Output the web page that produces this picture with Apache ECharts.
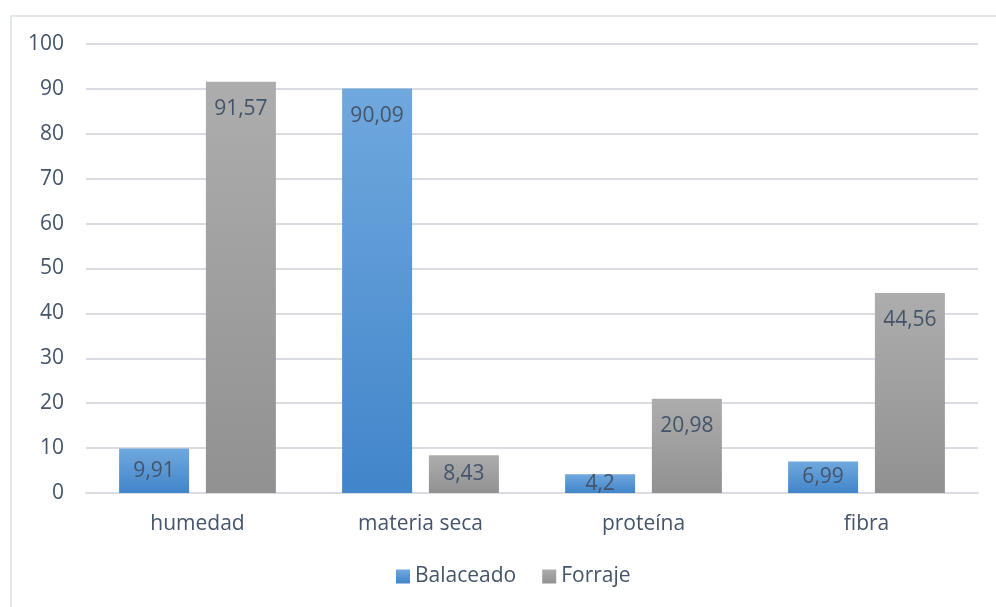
<!DOCTYPE html>
<html>
<head>
<meta charset="utf-8">
<script src="https://cdn.jsdelivr.net/npm/echarts@6/dist/echarts.min.js"></script>
<style>
  html, body { margin: 0; padding: 0; background: #fff; }
  #frame { position: absolute; left: 10px; top: 15px; width: 1000px; height: 620px; border: 2px solid #E3E6EB; box-sizing: border-box; }
  #chart { position: absolute; left: 0; top: 0; width: 996px; height: 607px; }
</style>
</head>
<body>
<div id="frame"></div>
<div id="chart"></div>
<script>
const categories = ['humedad', 'materia seca', 'proteína', 'fibra'];
const balaceado = [9.91, 90.09, 4.2, 6.99];
const forraje = [91.57, 8.43, 20.98, 44.56];
const seriesNames = ['Balaceado', 'Forraje'];

const textColor = '#44546A';
const font = '"Open Sans", "Noto Sans", sans-serif';
const fontSize = 21;

const fmt = v => String(v).replace('.', ',');

const blueGrad = new echarts.graphic.LinearGradient(0, 0, 0, 1, [
  { offset: 0, color: '#70A8DE' },
  { offset: 1, color: '#4185CA' }
]);
const grayGrad = new echarts.graphic.LinearGradient(0, 0, 0, 1, [
  { offset: 0, color: '#ADADAD' },
  { offset: 1, color: '#919191' }
]);

// Short bars cannot hold the label below their top edge, so centre it instead.
const withLabels = values => values.map(v => (
  v < 12 ? { value: v, label: { position: 'inside' } } : { value: v }
));

const labelStyle = {
  show: true,
  position: 'insideTop',
  distance: 17,
  color: textColor,
  fontSize: fontSize,
  fontFamily: font,
  formatter: p => fmt(p.value)
};

const chart = echarts.init(document.getElementById('chart'), null, { renderer: 'canvas' });
chart.setOption({
  animation: false,
  grid: { left: 86, right: 18, top: 44, bottom: 114, containLabel: false },
  legend: {
    data: seriesNames,
    bottom: 15,
    left: 391,
    itemWidth: 14,
    itemHeight: 14,
    itemGap: 26,
    icon: 'rect',
    textStyle: { color: textColor, fontSize: fontSize, fontFamily: font }
  },
  xAxis: {
    type: 'category',
    data: categories,
    axisLine: { show: true, lineStyle: { color: '#D9DDE3', width: 2 } },
    axisTick: { show: false },
    axisLabel: { color: textColor, fontSize: fontSize, fontFamily: font, margin: 21 }
  },
  yAxis: {
    type: 'value',
    min: 0,
    max: 100,
    interval: 10,
    axisLine: { show: false },
    axisTick: { show: false },
    splitLine: { lineStyle: { color: '#D9DDE3', width: 2 } },
    axisLabel: { color: textColor, fontSize: fontSize, fontFamily: font, margin: 22 }
  },
  series: [
    {
      name: seriesNames[0],
      type: 'bar',
      data: withLabels(balaceado),
      barWidth: 70,
      barGap: '24%',
      itemStyle: { color: blueGrad },
      label: labelStyle
    },
    {
      name: seriesNames[1],
      type: 'bar',
      data: withLabels(forraje),
      barWidth: 70,
      itemStyle: { color: grayGrad },
      label: labelStyle
    }
  ]
});
</script>
</body>
</html>
